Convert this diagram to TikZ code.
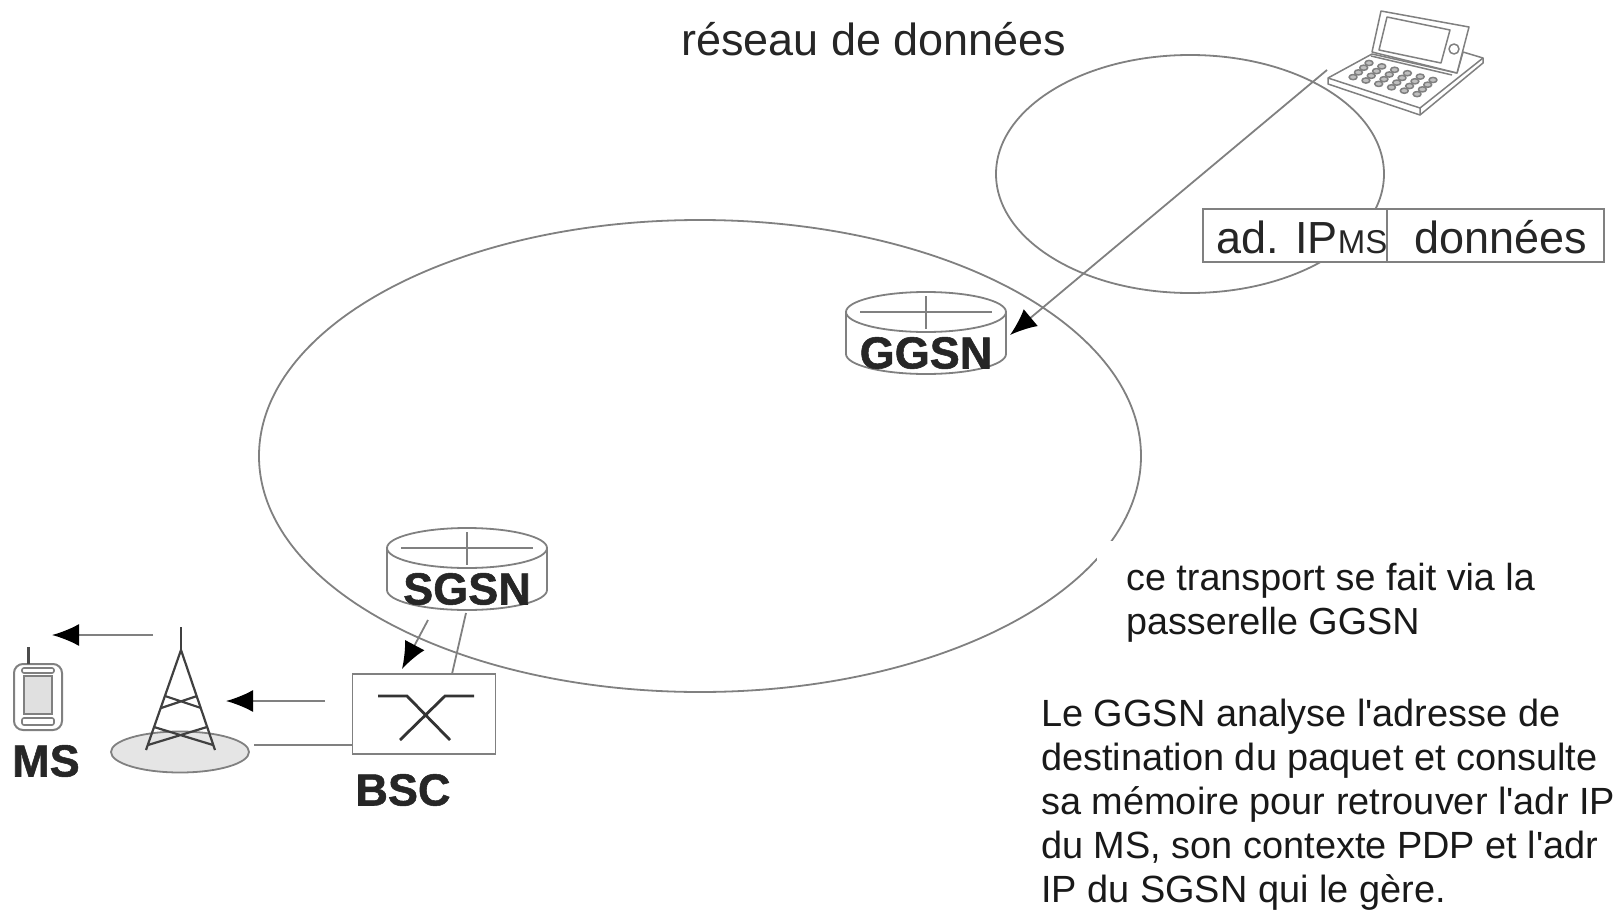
\documentclass[tikz,border=0pt]{standalone}
\usepackage{fontspec}
\setmainfont{Liberation Sans}
\newfontfamily\grasfont[BoldFeatures={FakeBold=1.2}]{Liberation Sans}
\usepackage{tikz}
\usetikzlibrary{arrows.meta}
\definecolor{linegray}{gray}{0.5}
\tikzset{
  trait/.style={draw=linegray, line width=1.8pt},
  fleche/.style={trait, -{Latex[length=27pt,width=22pt,black]}},
  lbl/.style={inner sep=0pt, anchor=west, font=\fontsize{45}{50}\selectfont, text=black!85},
  bloc/.style={inner sep=0pt, anchor=north west, align=left, text=black!90},
  gras/.style={inner sep=0pt, font=\grasfont\fontsize{45}{50}\selectfont\bfseries, text=black!85},
  boite/.style={draw=linegray, line width=2pt, fill=white, inner sep=0pt, minimum height=53pt}
}
% routeur : x,y = centre du disque du haut
\newcommand{\routeur}[3]{
  \draw[trait, fill=white] (#1-80,#2) -- (#1-80,#2+42) arc[start angle=180, end angle=0, x radius=80, y radius=20] -- (#1+80,#2);
  \draw[trait, fill=white] (#1,#2) ellipse[x radius=80, y radius=20];
  \draw[trait, line width=1.4pt] (#1-66,#2) -- (#1+66,#2) (#1,#2-16) -- (#1,#2+17);
  \node[gras] (#3) at (#1,#2+41) {#3};
}
\begin{document}
\begin{tikzpicture}[x=1pt,y=-1pt]
  \useasboundingbox (0,0) rectangle (1623,910);
  % reseaux
  \draw[trait] (700,456) ellipse[x radius=441, y radius=236];
  \draw[trait] (1190,174) ellipse[x radius=194, y radius=119];
  \fill[white] (1097,541) rectangle (1160,640);
  \node[lbl] (titre) at (681,39) {réseau de données};
  % portable
  \coordinate (pc) at (1327,70);
  \begin{scope}[linegray, line width=1.5pt, line join=round]
    \draw[fill=white] (1328,78) -- (1372,54) -- (1457,73) -- (1463,52) -- (1483,58) -- (1483,63) -- (1420,115) -- (1328,84) -- cycle;
    \draw (1328,78) -- (1420,108) -- (1483,58) (1420,108) -- (1420,115);
    \draw[fill=white] (1372,52) -- (1381,11) -- (1469,27) -- (1457,73) -- cycle;
    \draw (1379,50) -- (1387,17) -- (1450,30) -- (1441,63) -- cycle;
    \draw (1371,56) -- (1452,75);
    \draw (1454,49) circle[radius=5];
    \foreach \r in {0,1,2,3}
      \foreach \c in {0,1,2,3,4,5}
        \draw[fill=black!25] (1369+\c*12.8-\r*5.3,63+\c*3.4+\r*4.7) ellipse[x radius=4, y radius=2.6];
  \end{scope}
  % paquet
  \node[boite, minimum width=185pt] (adip) at (1295,235) {};
  \node[boite, minimum width=217pt] (data) at (1495,235) {};
  \node[lbl] at (1216,237) {ad. IP\fontsize{33}{36}\selectfont MS};
  \node[lbl, anchor=center] at (1501,237) {données};
  % equipements
  \routeur{926}{312}{GGSN}
  \routeur{467}{548}{SGSN}
  \node[draw=linegray, line width=1.8pt, fill=white, minimum width=143pt, minimum height=80pt, inner sep=0pt] (bsc) at (424,714) {};
  \draw[line width=2.8pt, black!80] (378,696) -- (407,696) -- (450,740) (474,696) -- (445,696) -- (400,740);
  \node[gras] (bsclbl) at (403,790) {BSC};
  % antenne
  \draw[trait, fill=black!10] (180,752) ellipse[x radius=69, y radius=20.5];
  \begin{scope}[black!75, line width=2.2pt]
    \draw (181,627) -- (181,650);
    \draw (146,750) -- (181,650) -- (215,750);
    \draw (165,696) -- (201,708) (161,708) -- (197,696);
    \draw (154,727) -- (213,745) (148,745) -- (207,727);
  \end{scope}
  \node[gras] (ms) at (46,761) {MS};
  % mobile
  \draw[linegray, line width=2pt, fill=white, rounded corners=9pt] (14,664) rectangle (62,730);
  \draw[linegray, line width=1.2pt, fill=black!12] (24,676) rectangle (52,714);
  \draw[linegray, line width=1.6pt, rounded corners=2pt] (22,668) rectangle (54,673) (22,718) rectangle (54,725);
  \draw[black!70, line width=3pt] (28,647) -- (28,664);
  % liaisons
  \coordinate (gsn) at (1010,335);
  \coordinate (sgsnb) at (466,613);
  \coordinate (bscn) at (452,674);
  \draw[fleche] (pc) -- (gsn);
  \draw[fleche] (428,620) -- (402,669);
  \draw[trait] (sgsnb) -- (bscn);
  \draw[fleche] (325,701) -- (226,701);
  \draw[fleche] (153,635) -- (52,635);
  \draw[trait] (bsc.west |- 0,745) -- (254,745);
  % textes
  \node[bloc, font=\fontsize{37.7}{44}\selectfont] at (1126,563) {ce transport se fait via la\\passerelle GGSN};
  \node[bloc, font=\fontsize{37.9}{44}\selectfont] at (1041,699) {Le GGSN analyse l\textquotesingle adresse de\\destination du paquet et consulte\\sa mémoire pour retrouver l\textquotesingle adr IP\\du MS, son contexte PDP et l\textquotesingle adr\\IP du SGSN qui le gère.};
\end{tikzpicture}
\end{document}
